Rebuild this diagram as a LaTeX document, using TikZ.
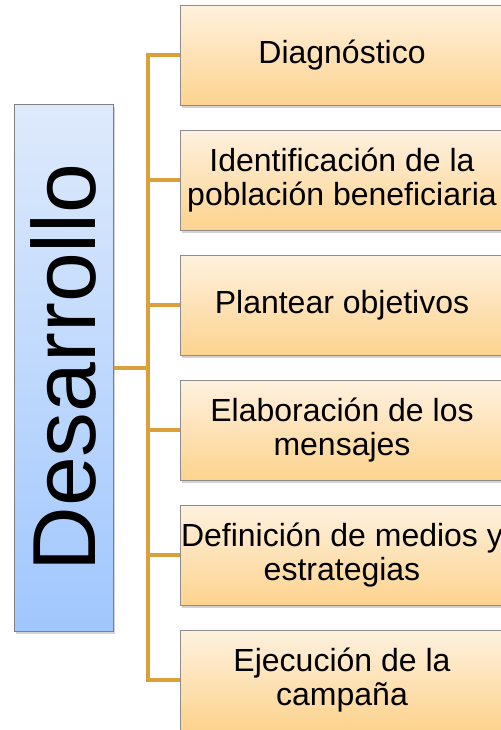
\documentclass[tikz,border=0pt]{standalone}
\usepackage{fontspec}
\setmainfont{Liberation Sans}
\usetikzlibrary{shadows}

\definecolor{ouro}{RGB}{219,160,58}
\definecolor{laranjaA}{RGB}{254,241,223}
\definecolor{laranjaB}{RGB}{253,211,142}
\definecolor{azulA}{RGB}{222,234,252}
\definecolor{azulB}{RGB}{160,199,254}

\begin{document}
\begin{tikzpicture}[x=0.5pt, y=-0.5pt,
    passo/.style={draw=black!45, line width=0.5pt, top color=laranjaA, bottom color=laranjaB,
        minimum width=162pt, minimum height=50pt, inner sep=0pt, align=center,
        font=\fontsize{16}{17}\selectfont,
        drop shadow={shadow xshift=1pt, shadow yshift=-1.5pt, opacity=0.35}},
    linha/.style={draw=ouro, line width=2pt}]

    % area visivel
    \useasboundingbox (0,0) rectangle (501,730);
    \clip (0,0) rectangle (501,730);

    % caixa principal
    \node (des) [draw=black!50, line width=0.5pt, top color=azulA, bottom color=azulB,
        minimum width=49.5pt, minimum height=263.5pt, inner sep=0pt,
        drop shadow={shadow xshift=1pt, shadow yshift=-1.5pt, opacity=0.35}] at (63.5,367.5) {};
    \node (tit) [rotate=90, font=\fontsize{44.8}{45}\selectfont] at (des.center) {Desarrollo};

    % etapas
    \node (p1) [passo] at (342,55)  {Diagnóstico};
    \node (p2) [passo] at (342,180) {Identificación de la\\población beneficiaria};
    \node (p3) [passo] at (342,305) {Plantear objetivos};
    \node (p4) [passo] at (342,430) {Elaboración de los\\mensajes};
    \node (p5) [passo] at (342,555) {Definición de medios y\\estrategias};
    \node (p6) [passo] at (342,680) {Ejecución de la\\campaña};

    % conectores
    \coordinate (tronco) at (148,367.5);
    \draw[linha] (des.east) -- (tronco);
    \foreach \k in {1,...,6}
        \draw[linha] (p\k.west) -| (tronco);

\end{tikzpicture}
\end{document}
